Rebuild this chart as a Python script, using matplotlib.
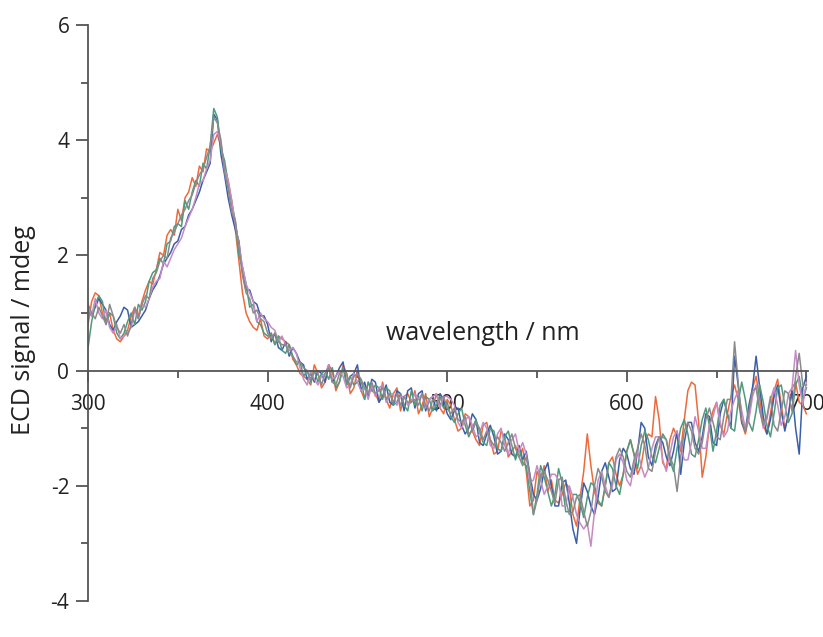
import numpy as np
import matplotlib
matplotlib.use("Agg")
import matplotlib.pyplot as plt
from matplotlib.ticker import MultipleLocator

plt.rcParams['font.family'] = ['Open Sans', 'DejaVu Sans']
plt.rcParams['axes.unicode_minus'] = False

# wavelength grid, 2 nm steps
wavelength = np.arange(300, 701, 2)

# five repeat ECD scans (mdeg)
scan_orange = [
    0.8, 1.2, 1.35, 1.3, 1.0, 0.85, 1.0, 0.7, 0.55, 0.5,
    0.6, 0.7, 0.95, 1.1, 0.95, 1.2, 1.4, 1.55, 1.5, 1.75,
    2.05, 2.0, 2.35, 2.45, 2.35, 2.8, 2.6, 3.0, 3.1, 3.35,
    3.2, 3.55, 3.45, 3.85, 3.8, 3.95, 4.1, 3.9, 3.55, 3.3,
    2.95, 2.45, 1.9, 1.35, 1.0, 0.85, 0.75, 0.7, 0.9, 0.6,
    0.55, 0.65, 0.45, 0.6, 0.55, 0.5, 0.45, 0.2, 0.1, -0.05,
    -0.1, -0.15, -0.25, 0.1, -0.05, -0.3, -0.2, 0.1, 0.0, -0.35,
    -0.2, 0.1, -0.05, -0.4, -0.3, 0.0, -0.35, -0.5, -0.2, -0.35,
    -0.4, -0.55, -0.2, -0.5, -0.65, -0.4, -0.3, -0.7, -0.45, -0.4,
    -0.55, -0.35, -0.75, -0.6, -0.4, -0.8, -0.65, -0.4, -0.65, -0.75,
    -0.5, -0.6, -0.85, -1.05, -1.0, -0.75, -0.8, -1.05, -1.2, -1.3,
    -0.95, -0.9, -1.2, -1.45, -1.4, -1.05, -1.15, -1.5, -1.4, -1.3,
    -1.5, -1.35, -1.75, -2.35, -2.25, -1.75, -1.9, -1.65, -2.1, -1.9,
    -2.25, -2.3, -2.15, -1.95, -2.05, -2.5, -2.7, -2.2, -1.75, -1.1,
    -1.65, -2.1, -2.3, -2.35, -2.0, -1.6, -1.5, -1.8, -2.0, -1.8,
    -1.4, -1.2, -1.45, -1.8, -1.65, -1.25, -1.1, -1.15, -0.45, -0.85,
    -1.6, -1.7, -1.2, -1.0, -1.15, -1.4, -0.85, -0.35, -0.2, -0.25,
    -0.9, -1.85, -1.5, -0.95, -0.7, -0.55, -0.95, -1.1, -0.75, -0.45,
    -0.25, -0.5, -0.9, -1.1, -0.8, -0.3, -0.1, -0.5, -0.95, -1.1,
    -0.75, -0.35, -0.15, -0.6, -1.0, -0.8, -0.3, -0.2, -0.55, -0.6,
    -0.75]

scan_blue = [
    1.05, 0.95, 1.1, 1.25, 1.15, 1.05, 0.8, 0.7, 0.85, 0.95,
    1.1, 1.05, 0.75, 0.8, 0.85, 0.95, 1.05, 1.25, 1.4, 1.5,
    1.65, 1.85, 1.95, 2.05, 2.2, 2.25, 2.45, 2.5, 2.7, 2.8,
    2.95, 3.1, 3.3, 3.45, 3.6, 4.45, 4.35, 3.75, 3.4, 3.0,
    2.7, 2.45, 2.25, 1.7, 1.4, 1.4, 1.2, 1.15, 0.95, 0.95,
    0.8, 0.5, 0.65, 0.4, 0.35, 0.5, 0.25, 0.4, 0.3, 0.15,
    0.1, -0.15, -0.05, -0.2, 0.0, -0.05, -0.2, 0.1, -0.2, -0.1,
    0.05, 0.15, -0.25, -0.1, -0.05, 0.1, -0.35, -0.2, -0.45, -0.15,
    -0.2, -0.55, -0.45, -0.25, -0.55, -0.6, -0.35, -0.4, -0.7, -0.35,
    -0.3, -0.65, -0.4, -0.35, -0.7, -0.5, -0.45, -0.7, -0.4, -0.5,
    -0.75, -0.85, -0.7, -0.65, -0.95, -1.1, -1.0, -0.75, -0.85, -1.25,
    -1.3, -1.1, -0.95, -1.15, -1.45, -1.4, -1.1, -1.2, -1.45, -1.5,
    -1.3, -1.55, -1.4, -1.8, -2.15, -2.25, -2.05, -1.75, -1.6, -2.0,
    -2.35, -2.35, -1.95, -1.9, -2.3, -2.75, -3.0, -2.4, -1.95, -2.1,
    -2.35, -2.5, -2.2, -1.75, -1.6, -1.85, -2.1, -2.05, -1.55, -1.35,
    -1.45, -1.7, -1.8, -1.4, -0.9, -1.0, -1.5, -1.65, -1.3, -1.15,
    -1.25, -1.5, -1.65, -1.4, -1.05, -1.8, -1.25, -0.9, -0.9, -1.25,
    -1.4, -1.15, -0.75, -0.8, -1.25, -1.3, -0.75, -0.5, -0.75, -1.0,
    0.25, -0.25, -0.9, -1.05, -0.6, -0.3, 0.25, -0.3, -0.8, -1.1,
    -0.85, -0.45, -0.25, -0.7, -1.05, -0.75, -0.35, -1.0, -1.45, -0.3,
    -0.1]

scan_green = [
    0.4, 0.85, 1.15, 1.3, 1.2, 0.8, 1.0, 0.95, 0.65, 0.55,
    0.65, 0.85, 1.0, 0.8, 1.15, 1.05, 1.2, 1.55, 1.7, 1.75,
    1.95, 1.85, 2.2, 2.25, 2.5, 2.55, 2.5, 2.95, 2.8, 3.1,
    3.3, 3.2, 3.6, 3.5, 3.9, 4.55, 4.4, 3.85, 3.65, 3.25,
    2.9, 2.6, 2.0, 1.8, 1.5, 1.1, 1.15, 0.85, 0.8, 0.65,
    0.6, 0.65, 0.45, 0.6, 0.35, 0.3, 0.45, 0.25, 0.1, 0.15,
    -0.1, 0.0, -0.2, 0.0, -0.2, -0.05, 0.0, -0.15, 0.05, -0.3,
    -0.2, 0.05, -0.25, -0.1, -0.25, -0.2, -0.15, -0.5, -0.2, -0.35,
    -0.25, -0.3, -0.5, -0.3, -0.35, -0.6, -0.55, -0.4, -0.6, -0.7,
    -0.35, -0.6, -0.45, -0.7, -0.45, -0.5, -0.7, -0.6, -0.45, -0.65,
    -0.55, -0.8, -0.9, -0.75, -0.65, -0.95, -1.15, -1.0, -0.85, -1.05,
    -1.25, -1.3, -1.0, -1.05, -1.35, -1.4, -1.15, -1.05, -1.3, -1.55,
    -1.35, -1.6, -1.65, -2.1, -2.5, -2.15, -1.65, -1.85, -2.1, -2.35,
    -2.15, -1.7, -1.95, -2.45, -2.45, -2.15, -2.15, -2.3, -2.55, -2.2,
    -1.95, -2.0, -2.25, -2.35, -2.0, -1.6, -1.7, -2.0, -2.15, -1.8,
    -1.4, -1.2, -1.45, -1.7, -1.3, -1.05, -1.2, -1.5, -1.6, -1.35,
    -1.1, -1.2, -1.55, -1.75, -1.35, -1.0, -0.85, -1.1, -1.45, -1.5,
    -1.2, -0.85, -0.65, -0.95, -1.4, -1.05, -0.6, -0.5, -0.75, -1.0,
    -1.05, -0.55, -0.2, -0.5, -0.9, -1.05, -0.7, -0.25, -0.55, -0.95,
    -1.15, -0.75, -0.3, -0.25, -0.6, -0.9, -0.75, -0.25, -0.1, -0.5,
    -0.3]

scan_purple = [
    1.1, 0.95, 1.25, 1.0, 0.9, 1.05, 0.75, 0.65, 0.8, 0.55,
    0.6, 0.65, 0.75, 1.05, 0.9, 1.15, 1.1, 1.25, 1.45, 1.55,
    1.6, 1.9, 1.8, 1.95, 2.1, 2.2, 2.3, 2.5, 2.65, 2.8,
    3.0, 3.25, 3.3, 3.5, 3.65, 4.1, 4.15, 3.95, 3.5, 3.3,
    2.95, 2.55, 2.2, 1.8, 1.5, 1.35, 1.2, 0.85, 1.0, 0.9,
    0.85, 0.75, 0.7, 0.5, 0.6, 0.45, 0.35, 0.4, 0.3, 0.05,
    -0.15, -0.25, 0.0, -0.15, -0.25, -0.1, -0.05, 0.1, -0.15, -0.1,
    0.0, -0.1, -0.3, -0.25, -0.05, -0.2, -0.35, -0.3, -0.5, -0.25,
    -0.45, -0.3, -0.25, -0.55, -0.4, -0.4, -0.6, -0.45, -0.45, -0.6,
    -0.55, -0.4, -0.5, -0.4, -0.65, -0.5, -0.45, -0.4, -0.65, -0.45,
    -0.45, -0.5, -0.6, -0.9, -1.0, -0.85, -0.8, -0.95, -1.15, -1.1,
    -0.9, -1.0, -1.3, -1.35, -1.1, -1.0, -1.3, -1.45, -1.2, -1.1,
    -1.4, -1.25, -1.45, -1.95, -1.9, -1.65, -1.9, -2.15, -2.0, -1.8,
    -1.8, -1.9, -2.35, -2.35, -2.0, -2.2, -2.5, -2.65, -2.75, -2.65,
    -3.05, -2.45, -1.9, -1.75, -2.0, -2.2, -2.0, -1.55, -1.45, -1.6,
    -1.9, -2.0, -1.65, -1.4, -1.65, -1.85, -1.7, -1.35, -1.15, -1.15,
    -1.55, -1.75, -1.45, -1.15, -1.05, -1.3, -1.55, -1.55, -1.25, -0.8,
    -1.05, -1.35, -1.35, -0.95, -0.8, -0.55, -0.9, -1.15, -1.05, -0.7,
    -0.5, -0.35, -0.7, -1.0, -0.85, -0.45, -0.25, -0.65, -1.0, -0.85,
    -0.5, -0.3, -0.6, -0.95, -0.8, -0.4, -0.3, 0.35, -0.25, -0.6,
    -0.2]

scan_gray = [
    1.15, 1.0, 0.9, 1.1, 0.95, 0.8, 1.15, 0.95, 0.75, 0.65,
    0.8, 0.6, 0.8, 1.1, 0.9, 1.15, 1.3, 1.25, 1.6, 1.7,
    1.9, 2.0, 1.95, 2.3, 2.4, 2.55, 2.7, 2.8, 2.95, 3.05,
    3.25, 3.4, 3.5, 3.7, 3.9, 4.4, 4.3, 4.0, 3.45, 3.15,
    2.75, 2.6, 2.15, 1.65, 1.35, 1.25, 1.0, 1.05, 0.9, 0.85,
    0.65, 0.55, 0.65, 0.5, 0.45, 0.45, 0.3, 0.25, 0.15, 0.15,
    0.05, 0.0, -0.15, 0.0, -0.05, -0.25, -0.05, 0.05, -0.2, -0.25,
    -0.05, 0.0, -0.05, -0.3, -0.1, -0.05, -0.15, -0.3, -0.4, -0.2,
    -0.4, -0.35, -0.3, -0.5, -0.4, -0.55, -0.4, -0.6, -0.45, -0.55,
    -0.55, -0.5, -0.6, -0.4, -0.6, -0.7, -0.5, -0.55, -0.5, -0.45,
    -0.65, -0.75, -0.65, -0.85, -0.9, -0.8, -1.1, -1.05, -0.9, -1.0,
    -1.2, -1.05, -1.2, -1.3, -1.15, -1.25, -1.4, -1.25, -1.1, -1.35,
    -1.5, -1.65, -1.5, -1.8, -2.5, -2.25, -1.8, -1.75, -1.9, -2.1,
    -2.3, -1.9, -1.85, -2.25, -2.5, -2.45, -2.2, -2.15, -2.45, -2.7,
    -2.45, -2.0, -1.7, -1.85, -2.1, -2.2, -1.9, -1.5, -1.35, -1.5,
    -1.75, -1.85, -1.55, -1.35, -1.1, -1.3, -1.7, -1.75, -1.4, -1.15,
    -1.15, -1.2, -1.5, -1.65, -2.1, -1.5, -1.05, -0.9, -1.05, -1.35,
    -1.45, -1.25, -0.85, -0.65, -0.9, -1.15, -1.2, -0.8, -0.5, -0.5,
    0.5, -0.2, -0.85, -1.05, -0.7, -0.35, -0.3, -0.7, -0.95, -0.8,
    -0.45, -0.95, -1.05, -0.7, -0.35, -0.4, -0.7, -0.1, 0.3, -0.25,
    -0.25]

scans = [scan_orange, scan_blue, scan_green, scan_purple, scan_gray]
colors = ['#ec6a3c', '#3b5ea8', '#4f9a7c', '#c58bc4', '#8a8a8a']

fig = plt.figure(figsize=(8.23, 6.37), dpi=100)
ax = fig.add_axes([0.107, 0.0565, 0.875, 0.9043])

for s, c in zip(scans, colors):
    ax.plot(wavelength, s, color=c, lw=1.1)

ax.set_xlim(300, 701)
ax.set_ylim(-4, 6)

# spines: y axis on the left, x axis through zero
ax.spines['top'].set_visible(False)
ax.spines['right'].set_visible(False)
ax.spines['bottom'].set_position(('data', 0))
for sp in ['left', 'bottom']:
    ax.spines[sp].set_color('#555555')
    ax.spines[sp].set_linewidth(1.3)

ax.xaxis.set_major_locator(MultipleLocator(100))
ax.xaxis.set_minor_locator(MultipleLocator(50))
ax.yaxis.set_major_locator(MultipleLocator(2))
ax.yaxis.set_minor_locator(MultipleLocator(1))

ax.tick_params(which='both', direction='out', color='#555555', width=1.3,
               labelsize=15, labelcolor='#222222')
ax.tick_params(axis='x', which='major', length=8, pad=9)
ax.tick_params(axis='x', which='minor', length=5)
ax.tick_params(axis='y', which='major', length=8.5, pad=5)
ax.tick_params(axis='y', which='minor', length=5)

ax.set_xlabel('wavelength / nm', fontsize=18, color='#222222', ha='left', va='baseline')
ax.xaxis.set_label_coords(0.414, 0.453)
ax.set_ylabel('ECD signal / mdeg', fontsize=18, color='#222222', va='center')
ax.yaxis.set_label_coords(-0.09, 0.47)

fig.savefig('out.png', dpi=100)
